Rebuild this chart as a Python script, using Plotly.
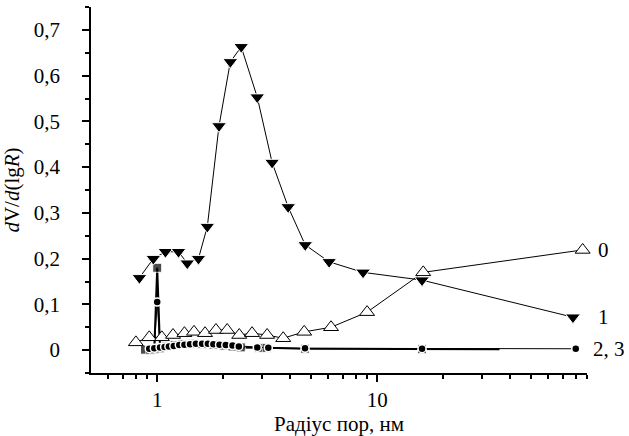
import math
import plotly.graph_objects as go

# ---- data ----
x0 = [0.80, 0.92, 1.05, 1.18, 1.33, 1.47, 1.65, 1.85, 2.08, 2.36, 2.70, 3.16, 3.74, 4.66, 6.17, 9.0, 16.2, 86.0]
y0 = [0.017, 0.028, 0.028, 0.033, 0.037, 0.040, 0.037, 0.044, 0.044, 0.033, 0.037, 0.033, 0.026, 0.040, 0.050, 0.083, 0.170, 0.219]

x1 = [0.83, 0.96, 1.09, 1.25, 1.37, 1.54, 1.69, 1.91, 2.15, 2.41, 2.85, 3.33, 3.94, 4.71, 6.05, 8.63, 16.0, 77.7]
y1 = [0.158, 0.200, 0.215, 0.215, 0.190, 0.200, 0.270, 0.490, 0.630, 0.663, 0.553, 0.410, 0.313, 0.230, 0.193, 0.170, 0.153, 0.072]

x2 = [0.88, 0.93, 0.97, 1.00, 1.03, 1.10, 1.20, 1.30, 1.45, 1.60, 1.80, 2.00, 2.20, 2.40, 2.90, 3.15, 4.70, 16.0, 36.0]
y2 = [0.001, 0.001, 0.002, 0.180, 0.004, 0.008, 0.011, 0.013, 0.014, 0.013, 0.012, 0.010, 0.008, 0.006, 0.005, 0.005, 0.003, 0.002, 0.002]

x3 = [0.92, 0.97, 1.00, 1.03, 1.08, 1.13, 1.19, 1.26, 1.33, 1.41, 1.50, 1.60, 1.70, 1.80, 1.92, 2.05, 2.20, 2.35, 2.85, 3.20, 4.70, 16.0, 80.0]
y3 = [0.003, 0.004, 0.105, 0.006, 0.007, 0.008, 0.009, 0.011, 0.012, 0.013, 0.014, 0.014, 0.014, 0.013, 0.012, 0.011, 0.010, 0.008, 0.006, 0.005, 0.004, 0.003, 0.003]

curve_labels = ["0", "1", "2, 3"]

y_tickvals = [0, 0.1, 0.2, 0.3, 0.4, 0.5, 0.6, 0.7]
y_ticktext = ["0", "0,1", "0,2", "0,3", "0,4", "0,5", "0,6", "0,7"]
x_tickvals = [1, 10]
x_ticktext = ["1", "10"]

FONT = "Liberation Serif"
FS = 21

fig = go.Figure()

fig.add_trace(go.Scatter(
    x=x2, y=y2, mode="lines+markers",
    line=dict(color="black", width=2),
    marker=dict(symbol="square", size=[9] * (len(x2) - 1) + [0], color="black",
                line=dict(color="white", width=1)),
    showlegend=False, cliponaxis=False))

fig.add_trace(go.Scatter(
    x=x3, y=y3, mode="lines+markers",
    line=dict(color="black", width=1),
    marker=dict(symbol="circle", size=8, color="black",
                line=dict(color="white", width=1.5)),
    showlegend=False, cliponaxis=False))

fig.add_trace(go.Scatter(
    x=x0, y=y0, mode="lines+markers",
    line=dict(color="black", width=1),
    marker=dict(symbol="triangle-up", size=13, color="white",
                line=dict(color="black", width=1)),
    showlegend=False, cliponaxis=False))

fig.add_trace(go.Scatter(
    x=x1, y=y1, mode="lines+markers",
    line=dict(color="black", width=1),
    marker=dict(symbol="triangle-down", size=13, color="black",
                line=dict(color="white", width=1)),
    showlegend=False, cliponaxis=False))

# curve labels next to the last points
ends = [(x0[-1], y0[-1], 13), (x1[-1], y1[-1], 23), (x3[-1], y3[-1], 15)]
for (xe, ye, sh), lab in zip(ends, curve_labels):
    fig.add_annotation(x=math.log10(xe), y=ye, text=lab, showarrow=False,
                       xanchor="left", yanchor="middle", xshift=sh,
                       font=dict(family=FONT, size=FS, color="black"))

minor_x = [0.6, 0.7, 0.8, 0.9] + [float(v) for v in range(2, 10)] + [float(v) for v in range(20, 100, 10)]

fig.update_layout(
    width=629, height=436,
    margin=dict(l=91, r=42, t=7, b=63),
    paper_bgcolor="white", plot_bgcolor="white",
    font=dict(family=FONT, size=FS, color="black"),
    xaxis=dict(
        type="log", range=[math.log10(0.5), math.log10(90)],
        tickvals=x_tickvals, ticktext=x_ticktext,
        ticks="outside", ticklen=7, tickwidth=1.5, tickcolor="black",
        showline=True, linecolor="black", linewidth=1.5,
        showgrid=False, zeroline=False,
        minor=dict(tickvals=minor_x, ticks="outside", ticklen=4,
                   tickwidth=1.5, tickcolor="black", showgrid=False),
        title=dict(text="Радіус пор, нм", font=dict(family=FONT, size=FS), standoff=2),
        tickfont=dict(family=FONT, size=FS),
    ),
    yaxis=dict(
        range=[-0.05, 0.75],
        tickvals=y_tickvals, ticktext=y_ticktext,
        ticks="outside", ticklen=7, tickwidth=1.5, tickcolor="black",
        showline=True, linecolor="black", linewidth=1.5,
        showgrid=False, zeroline=False,
        minor=dict(dtick=0.05, tick0=0, ticks="outside", ticklen=4,
                   tickwidth=1.5, tickcolor="black", showgrid=False),
        ticklabelstandoff=18,
        title=dict(text="<i>d</i>V/<i>d</i>(lg<i>R</i>)", font=dict(family=FONT, size=FS), standoff=8),
        tickfont=dict(family=FONT, size=FS),
    ),
)

fig.write_html("out.html")
